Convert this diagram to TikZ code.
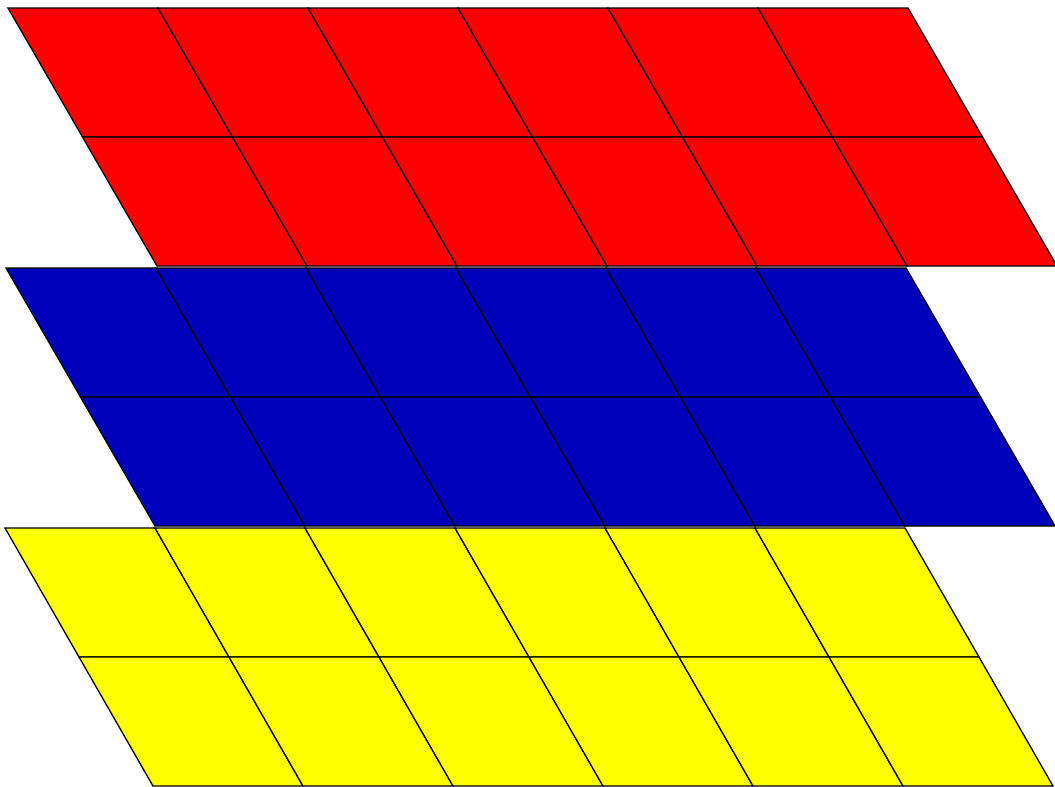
\documentclass[tikz,border=0pt]{standalone}
\definecolor{layerred}{RGB}{255,0,0}
\definecolor{layerblue}{RGB}{0,0,187}
\definecolor{layeryellow}{RGB}{255,255,0}
\tikzset{cell/.style={draw=black, line width=1.3pt, line join=miter}}
\begin{document}
\begin{tikzpicture}[x=1pt,y=-1pt]
\useasboundingbox (0,0) rectangle (1055,787);
\foreach \ox/\oy/\sh/\col in {8/8/74.5/layerred, 6/268/74.5/layerblue, 5/528/74/layeryellow}{
  \foreach \j in {0,1}{
    \foreach \i in {0,...,5}{
      \pgfmathsetmacro{\xa}{\ox+150*\i+\sh*\j}
      \pgfmathsetmacro{\ya}{\oy+129*\j}
      \fill[\col, draw=black, line width=1.3pt]
        (\xa,\ya) -- ++(150,0) -- ++(\sh,129) -- ++(-150,0) -- cycle;
    }
  }
}
\end{tikzpicture}
\end{document}
